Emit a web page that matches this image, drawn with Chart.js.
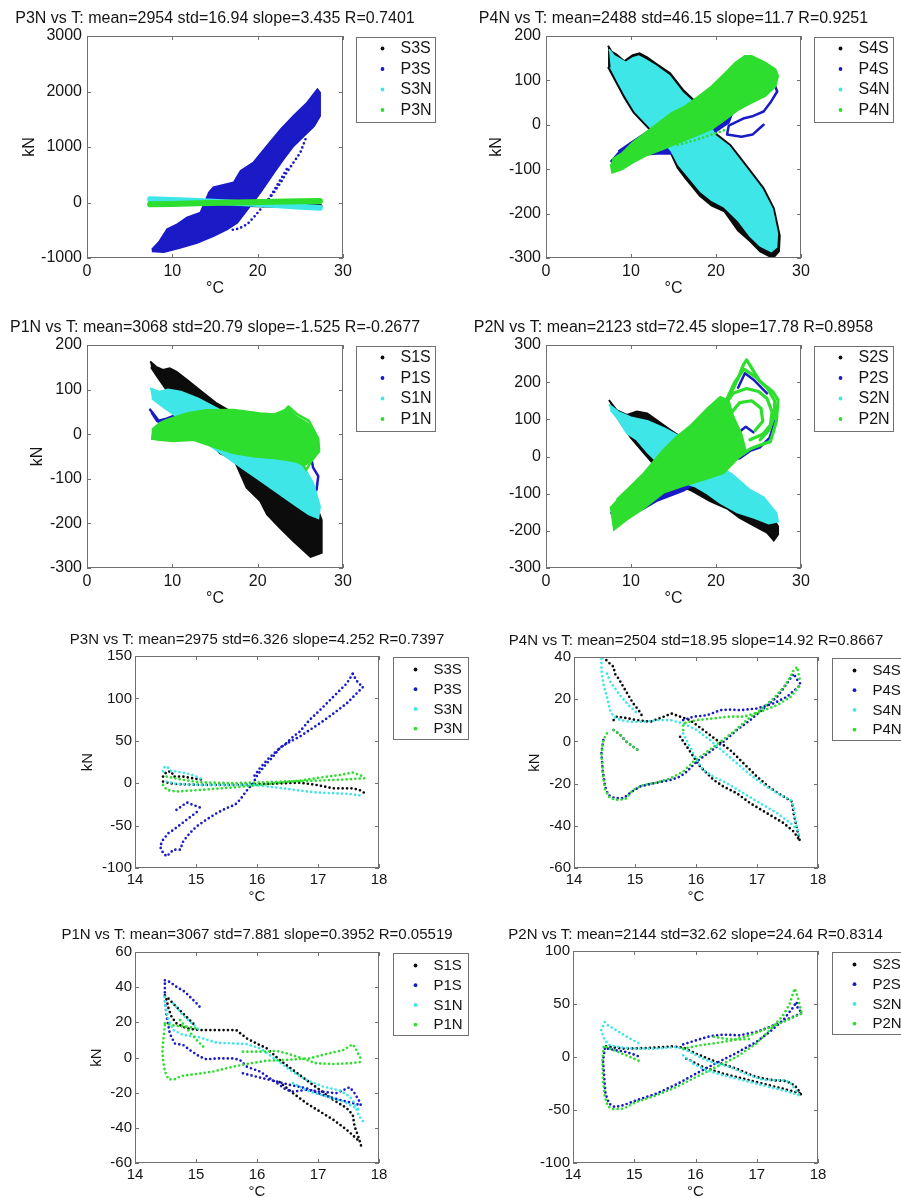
<!DOCTYPE html>
<html>
<head>
<meta charset="utf-8">
<script src="https://cdn.jsdelivr.net/npm/chart.js@4.4.1/dist/chart.umd.min.js"></script>
<style>
  html, body { margin: 0; padding: 0; background: #fff; }
  body { position: relative; width: 901px; height: 1198px; overflow: hidden; }
</style>
</head>
<body>
<script>
// ---- panel 1 : P3N (full record) ----
const p1Title = 'P3N vs T: mean=2954 std=16.94 slope=3.435 R=0.7401';
const p1Labels = ['S3S', 'P3S', 'S3N', 'P3N'];
const p1XTicks = [0, 10, 20, 30];
const p1YTicks = [-1000, 0, 1000, 2000, 3000];
const p1S3S = [[7.5,30],[10,15],[13,0],[16,-15],[19,-35],[22,-50],[25,-60],[27.3,-68]];
const p1P3S_cloud = [[7.6,-850],[8.5,-700],[9.4,-484],[10.5,-400],[11.7,-273],[13.3,-183],[14.3,180],[14.8,270],[17.2,360],[18,568],[19.5,718],[21.1,1018],[22.7,1318],[24.2,1559],[25.8,1799],[27,2039],[27.3,1979],[27.3,1559],[26.6,1378],[25.4,1198],[24.2,1018],[23,778],[21.9,538],[21.1,357],[20.3,177],[19.7,57],[18.8,-123],[17.6,-363],[16.4,-484],[14.8,-604],[12.9,-724],[10.9,-814],[9,-892],[7.6,-880]];
const p1P3S_trails = [
  [[25.6,1140],[25.0,900],[24.2,720],[23.4,540],[22.7,360],[21.9,180],[21.3,60]],
  [[23.4,600],[22.7,420],[22.0,240],[21.3,60],[20.5,-90],[19.7,-240],[18.8,-390],[17.8,-470],[16.8,-500]]
];
const p1S3N = [[7.4,60],[10,45],[13,25],[16,5],[19,-20],[22,-45],[25,-75],[27.3,-93]];
const p1P3N = [[7.4,-33],[10,-25],[13,-15],[16,-5],[19,5],[22,15],[25,22],[27.3,27]];

// ---- panel 2 : P4N (full record) ----
const p2Title = 'P4N vs T: mean=2488 std=46.15 slope=11.7 R=0.9251';
const p2Labels = ['S4S', 'P4S', 'S4N', 'P4N'];
const p2XTicks = [0, 10, 20, 30];
const p2YTicks = [-300, -200, -100, 0, 100, 200];
const p2S4S = [[7.3,178],[7.7,165],[8.3,158],[9.2,143],[10.2,157],[11,161],[11.9,152],[13,137],[14.6,116],[16.1,79],[17.3,57],[18.7,33],[20.1,-22],[21.7,-46],[23.2,-83],[24.4,-113],[25.6,-143],[26.8,-188],[27.5,-250],[27.4,-285],[26.7,-300],[25.2,-285],[24,-262],[22.6,-238],[21,-195],[19.5,-182],[18.1,-160],[16.4,-120],[15.5,-97],[14.6,-60],[13.3,-32],[11.8,-2],[10.3,28],[9.2,62],[8.2,98],[7.3,130]];
const p2P4S = [[7.6,-80],[8.4,-100],[9.5,-85],[11,-68],[13,-65],[14.8,-65],[16.2,-50],[18,-32],[20,-15],[21.5,5],[22,30],[20,60],[18,50],[16,35],[14,10],[12,-15],[10,-40],[8.5,-60]];
const p2P4S_loop = [[23.4,144],[25,128],[26.6,105],[27.2,75],[26.4,50],[25.6,30],[24.4,20],[23.2,14],[21.5,-2],[21.3,-22],[23,-27],[24.3,-22],[25,-10],[25.6,0]];
const p2S4N = [[7.4,170],[8,155],[9.4,140],[10.2,150],[10.9,154],[11.7,146],[12.9,132],[14.5,110],[16,73],[17.2,52],[18.5,30],[19.9,-25],[21.5,-48],[23,-85],[24.2,-115],[25.4,-145],[26.6,-190],[27.2,-245],[27.1,-275],[26.5,-285],[25.2,-272],[24,-250],[22.6,-215],[21,-185],[19.5,-170],[18.2,-150],[16.6,-113],[15.6,-90],[14.8,-60],[13.5,-30],[12,0],[10.5,30],[9.4,65],[8.4,100],[7.6,130]];
const p2P4N = [[7.6,-89],[7.8,-108],[9,-100],[10.2,-85],[11.7,-70],[13.7,-55],[15.6,-40],[17.6,-25],[19.5,-10],[21.1,12],[22.7,35],[24.2,50],[25.8,65],[27,87],[27.3,110],[27,125],[25.8,140],[24.2,155],[23.4,155],[22.3,140],[21.1,117],[19.5,87],[18,65],[16.4,42],[14.8,27],[13.3,5],[11.7,-18],[10.2,-40],[9,-63],[7.8,-78]];
const p2P4N_trail = [[15.5,-45],[17.5,-35],[19.5,-22],[21,-12]];

// ---- panel 3 : P1N (full record) ----
const p3Title = 'P1N vs T: mean=3068 std=20.79 slope=-1.525 R=-0.2677';
const p3Labels = ['S1S', 'P1S', 'S1N', 'P1N'];
const p3XTicks = [0, 10, 20, 30];
const p3YTicks = [-300, -200, -100, 0, 100, 200];
const p3S1S = [[7.4,163],[8.1,151],[8.9,144],[9.7,148],[10.5,140],[11.7,122],[13.2,99],[15.2,69],[17.2,47],[19.5,17],[21.1,-13],[23.4,-58],[25,-102],[26.6,-147],[27.5,-192],[27.5,-266],[26.2,-275],[24.2,-240],[22.6,-210],[21.1,-180],[20.3,-150],[18.7,-120],[17.2,-55],[15.6,-43],[14,-10],[12,30],[10.5,60],[9.3,100],[8.2,130],[7.5,150]];
const p3P1S_loops = [
  [[7.4,55],[7.8,45],[8.4,30],[9.3,35],[10.3,42],[10.0,28],[9.0,22],[8.2,30],[7.6,48]],
  [[22.5,-10],[23.8,-20],[24.6,-30],[25.5,-25],[26.2,-45],[26.5,-75],[27.1,-94],[26.9,-125],[26.2,-132],[25.4,-113],[25.6,-90],[24.8,-75],[23.5,-65],[22,-60],[21.1,-87],[22.5,-95],[24,-100]]
];
const p3S1N = [[7.4,103],[8.5,95],[9.5,100],[11,95],[13,80],[15,60],[17,40],[19,20],[21,-5],[23,-30],[25,-60],[26.5,-110],[27.3,-162],[27.1,-188],[26,-180],[24.5,-160],[23,-140],[21.5,-120],[20,-100],[18.5,-80],[17,-60],[15.5,-40],[14,-20],[12,10],[10.5,40],[9,60],[7.6,80]];
const p3P1N = [[7.6,10],[8.5,25],[9.3,32],[11.7,47],[14,54],[17.2,55],[20.3,47],[22,45],[23.6,58],[24.5,40],[25.8,25],[26.8,0],[27.2,-35],[26.5,-55],[25.5,-70],[24.5,-62],[23.4,-58],[21.9,-54],[19.5,-50],[17.2,-43],[14.8,-28],[12.5,-13],[10.1,-16],[8.5,-13],[7.5,-10]];
const p3P1N_loops = [
  [[22.5,40],[23.6,62],[24.6,45],[26,30],[27.1,-10],[27.2,-38],[26.3,-60],[25.7,-80],[25,-60],[24,-35],[23.2,-10]]
];

// ---- panel 4 : P2N (full record) ----
const p4Title = 'P2N vs T: mean=2123 std=72.45 slope=17.78 R=0.8958';
const p4Labels = ['S2S', 'P2S', 'S2N', 'P2N'];
const p4XTicks = [0, 10, 20, 30];
const p4YTicks = [-300, -200, -100, 0, 100, 200, 300];
const p4S2S = [[7.4,152],[8.3,125],[9.5,112],[10.7,121],[11.9,116],[13,98],[14.6,72],[16,50],[17.5,25],[19,0],[20.5,-30],[22,-60],[23.5,-90],[25,-120],[26.5,-160],[27.3,-188],[27.3,-210],[26.8,-226],[26,-205],[24.4,-185],[22.8,-165],[21.3,-140],[19.3,-120],[17.4,-95],[16,-80],[14.5,-60],[13,-30],[11.5,10],[10,50],[8.8,90],[7.8,125]];
const p4P2S = [[7.6,-150],[8.3,-175],[9.5,-160],[11.5,-140],[13,-120],[16.2,-92],[18.5,-60],[19.7,-30],[21,-5],[21.5,40],[20.5,100],[18.5,100],[16.5,70],[14.5,30],[12.5,-30],[10.5,-80],[8.8,-120]];
const p4P2S_loops = [
  [[19.7,-27],[21,-10],[22.8,-5],[24,15],[25.2,25],[26.3,50],[27,100]],
  [[22.6,185],[23.4,224],[24.5,205],[26,170]],
  [[21,40],[22.4,60],[23.5,80],[24.4,65]]
];
const p4S2N = [[7.4,140],[8.5,120],[10,105],[12,95],[14,75],[16,50],[18,20],[20,-20],[22,-50],[24,-90],[25.6,-110],[27.1,-152],[27.3,-175],[26.2,-180],[24.5,-165],[22.5,-150],[20.5,-125],[19,-100],[17.5,-80],[15.5,-65],[13.8,-30],[12,10],[10.7,45],[9.5,63],[8.5,100],[7.6,125]];
const p4P2N = [[7.6,-134],[8,-197],[9.5,-170],[11.5,-140],[13.8,-98],[16,-80],[18.5,-63],[20.9,-45],[22.4,-9],[23.5,15],[23,60],[22,110],[21.5,150],[20.5,160],[19,130],[16.9,81],[15.4,54],[13.8,18],[11.5,-45],[9.9,-81],[8.3,-116]];
const p4P2N_loops = [
  [[21.3,150],[22.6,210],[23.2,246],[23.6,260],[25.2,201],[26.7,174],[27.3,152],[27.1,94],[26.4,40],[25.2,31],[24,20],[22.4,-5]],
  [[20.8,130],[22.2,200],[23.3,235],[24.6,215],[26,185],[26.9,150],[26.9,110],[26.2,70],[25.2,45]],
  [[20.5,120],[22,170],[23.6,183],[25,175],[26,156],[26.6,120],[26.4,85],[25.5,60],[24,45]],
  [[21.5,110],[22.8,145],[24.2,150],[25.3,130],[25.5,95],[24.6,70]]
];

// ---- panel 5 : P3N (short window) ----
const p5Title = 'P3N vs T: mean=2975 std=6.326 slope=4.252 R=0.7397';
const p5Labels = ['S3S', 'P3S', 'S3N', 'P3N'];
const p5XTicks = [14, 15, 16, 17, 18];
const p5YTicks = [-100, -50, 0, 50, 100, 150];
const p5S3S = [
  [[14.46,7.8],[14.52,13.7],[14.6,13.7],[14.63,7.8],[14.79,7.8],[14.95,5.8],[15.12,3.9]],
  [[14.46,1.9],[14.63,-0.8],[15.06,-2],[15.61,-2],[16.16,-0.8],[16.7,0.7],[16.97,-2],[17.25,-6],[17.57,-6],[17.68,-8],[17.77,-11.8]]
];
const p5P3S = [
  [[17.57,129],[17.47,117.5],[17.25,101.8],[17.03,86],[16.86,74.4],[16.7,60.7],[16.59,54.8],[16.48,47],[16.37,41],[16.26,31],[16.16,23.4],[16.05,13.7],[15.99,7.8],[15.94,0],[15.86,-6],[15.8,-11.8],[15.72,-19.6],[15.64,-25.5],[15.5,-29.4],[15.34,-35.3],[15.17,-43],[15.01,-51],[14.9,-58.8],[14.79,-68.6],[14.74,-78.4],[14.63,-78.4],[14.52,-86.3],[14.46,-82.3],[14.41,-74.5],[14.46,-66.7],[14.55,-58.8],[14.63,-55],[14.85,-43],[15.06,-31.4]],
  [[14.68,-31.4],[14.85,-22.8],[15.09,-29.4]],
  [[17.57,129],[17.6,125],[17.66,118],[17.74,113.6],[17.47,94],[17.25,82],[17.03,70.5],[16.86,62.6],[16.7,54.8],[16.54,48.9],[16.4,43],[16.2,30],[16.05,18],[15.95,8]]
];
const p5S3N = [
  [[14.46,14],[14.49,20],[14.55,18],[14.6,14],[14.68,13.7],[14.85,11.7],[15.01,7.8],[15.12,3.9]],
  [[14.52,2],[14.68,-0.8],[15.06,-2],[15.94,-2],[16.43,-6],[16.7,-8.7],[16.97,-11],[17.25,-11.8],[17.52,-12.6],[17.74,-15]]
];
const p5P3N = [
  [[14.46,-2],[14.52,-8],[14.68,-9.8],[15.06,-8],[15.61,-5],[15.94,-2.8],[16.16,-1.2],[16.7,3],[17.03,6.6],[17.36,9.7],[17.57,12.5],[17.68,9.7],[17.77,7]],
  [[14.52,7.8],[14.79,3.9],[15.06,1.1],[15.61,0],[15.94,0.7],[16.43,2],[16.97,3],[17.52,4.7],[17.77,5.8]]
];

// ---- panel 6 : P4N (short window) ----
const p6Title = 'P4N vs T: mean=2504 std=18.95 slope=14.92 R=0.8667';
const p6Labels = ['S4S', 'P4S', 'S4N', 'P4N'];
const p6XTicks = [14, 15, 16, 17, 18];
const p6YTicks = [-60, -40, -20, 0, 20, 40];
const p6S4S = [
  [[14.48,40],[14.56,37.6],[14.65,35.3],[14.67,32.1],[14.73,29.8],[14.81,25.8],[14.89,21.9],[14.97,18],[15.06,14.8],[15.11,12.4]],
  [[14.65,10.1],[14.7,11.7],[14.81,11.3],[15.03,10.1],[15.25,9.3],[15.47,11.7],[15.6,13.2],[15.74,11.7],[15.9,10.1],[16.12,5.4],[16.34,0.6],[16.56,-4.1],[16.78,-10.4],[17,-16.7],[17.22,-22.2],[17.44,-26.2],[17.57,-28.5],[17.6,-34],[17.66,-41.9],[17.71,-48.2]],
  [[15.74,2.2],[15.85,-2.5],[15.96,-7.3],[16.07,-12],[16.18,-15.1],[16.29,-18.3],[16.45,-21.4],[16.67,-24.6],[16.89,-29.3],[17.16,-34],[17.44,-38.8],[17.6,-42.7],[17.71,-47.4]]
];
const p6P4S = [
  [[14.48,0.6],[14.45,-5.7],[14.47,-13.6],[14.51,-21.4],[14.56,-25.4],[14.67,-26.9],[14.81,-26.9],[14.95,-23.8],[15.08,-21.4],[15.3,-19.9],[15.58,-18.3],[15.74,-16.7],[15.85,-14.3],[16.01,-9.6],[16.23,-4.9],[16.45,-0.2],[16.67,5.4],[16.89,10.1],[17.11,15.6],[17.33,21.1],[17.49,27.4],[17.6,32.1],[17.68,28.2],[17.71,27.4]],
  [[15.79,10.1],[15.96,11.7],[16.18,12.4],[16.4,14.8],[16.56,15.1],[16.73,14.8],[17,15.6],[17.27,18],[17.49,21.1],[17.71,26.6]],
  [[14.65,5.4],[14.76,3],[14.86,-0.2],[14.97,-2.5],[15.08,-4.9]]
];
const p6S4N = [
  [[14.45,39.2],[14.45,33.7],[14.48,27.4],[14.54,21.1],[14.59,14.8],[14.65,11.7],[14.76,10.1],[14.92,9.3],[15.14,9.3],[15.36,10.1],[15.58,10.1],[15.79,8.5],[16.01,5.4],[16.23,0.6],[16.45,-4.9],[16.67,-10.4],[16.89,-15.9],[17.11,-20.6],[17.33,-24.6],[17.55,-27.7],[17.6,-30.9],[17.63,-37.2],[17.68,-43.5],[17.71,-45.8]],
  [[14.54,32.1],[14.6,28],[14.75,22],[14.9,17],[15.05,13]],
  [[15.79,3.8],[15.9,-2.5],[16.01,-8.8],[16.12,-13.6],[16.29,-16.7],[16.51,-19.9],[16.78,-24.6],[17.05,-29.3],[17.33,-34],[17.55,-38.8],[17.66,-41.9]]
];
const p6P4N = [
  [[14.54,3.8],[14.48,0.6],[14.45,-5.7],[14.47,-15.1],[14.51,-23],[14.59,-26.9],[14.7,-27.7],[14.84,-27.4],[14.97,-23],[15.14,-20.6],[15.36,-19.5],[15.58,-17.5],[15.79,-14.3],[15.96,-9.6],[16.18,-4.9],[16.4,-0.2],[16.62,4.6],[16.83,10.1],[17.05,14.8],[17.27,20.3],[17.44,25.8],[17.55,30.6],[17.6,33.7],[17.66,35.3],[17.68,32.1],[17.71,28.2]],
  [[15.79,5.4],[15.79,8.5],[16.01,10.1],[16.29,10.9],[16.51,11.7],[16.78,11.7],[17.05,14],[17.33,17.2],[17.55,21.1],[17.71,26.6]],
  [[14.65,5.4],[14.76,3],[14.86,-0.2],[14.97,-2.5],[15.08,-4.9]]
];

// ---- panel 7 : P1N (short window) ----
const p7Title = 'P1N vs T: mean=3067 std=7.881 slope=0.3952 R=0.05519';
const p7Labels = ['S1S', 'P1S', 'S1N', 'P1N'];
const p7XTicks = [14, 15, 16, 17, 18];
const p7YTicks = [-60, -40, -20, 0, 20, 40, 60];
const p7S1S = [
  [[14.49,35.4],[14.52,32.6],[14.55,27.9],[14.6,23.1],[14.68,19.4],[14.85,16.5],[15.06,15.6],[15.34,15.6],[15.66,15.6],[15.83,10.9],[15.99,8],[16.16,5.2],[16.37,-1.4],[16.59,-7.1],[16.81,-12.8],[17.03,-18.4],[17.25,-24.1],[17.47,-28.8],[17.57,-32.6],[17.6,-39.2],[17.66,-44.9],[17.71,-50.6]],
  [[14.55,33.5],[14.65,29.8],[14.76,26],[14.87,22.2],[14.98,18.4]],
  [[16.37,-14],[16.59,-20.3],[16.81,-26],[17.03,-30.7],[17.25,-35.4],[17.47,-41.1],[17.68,-47.7]]
];
const p7P1S = [
  [[14.49,43.9],[14.57,43],[14.68,40.2],[14.82,37.3],[14.93,33.5],[15.04,29.8],[15.09,27.3]],
  [[14.49,42],[14.49,32.6],[14.52,23.1],[14.57,13.7],[14.65,8],[14.79,7.1],[14.9,4.2],[15.06,0.5],[15.17,-1],[15.39,-0.5],[15.61,-0.5],[15.72,-1.4],[15.83,-5.2],[16.05,-8],[16.21,-11.8],[16.37,-15.6],[16.48,-18.4],[16.59,-19.4],[16.81,-18.4],[17.03,-19.4],[17.3,-20.3],[17.52,-16.9],[17.6,-20.3],[17.68,-25],[17.71,-27.9]],
  [[15.77,-9],[15.99,-10.9],[16.26,-13.1],[16.54,-15.6],[16.81,-17.5],[17.08,-21.3],[17.36,-24.1],[17.68,-26.9]]
];
const p7S1N = [
  [[14.49,34.5],[14.5,28.8],[14.55,21.3],[14.63,15.6],[14.79,12.8],[15.06,11.4],[15.34,8.4],[15.61,8],[15.83,7.6],[16.05,5.2],[16.32,-1.4],[16.54,-7.1],[16.81,-12.8],[17.08,-16.5],[17.36,-18.8],[17.52,-22.2],[17.6,-26],[17.66,-32.6],[17.74,-36.4]],
  [[14.63,30.7],[14.76,25],[14.9,20.3],[15.06,15.6]],
  [[16.59,-14.6],[16.86,-19.4],[17.14,-22.2],[17.41,-25],[17.68,-29.8]]
];
const p7P1N = [
  [[14.49,18.4],[14.47,11.8],[14.45,4.2],[14.46,-1.4],[14.49,-8],[14.55,-12.4],[14.65,-12.4],[14.76,-10.5],[14.96,-9.6],[15.28,-8],[15.61,-5.2],[15.83,-3.7],[16.16,-1.8],[16.48,-1.4],[16.86,-0.5],[17.14,2],[17.41,4.2],[17.57,7.5],[17.63,4.2],[17.68,0.5],[17.73,-1.8]],
  [[14.49,19.4],[14.68,17.9],[14.85,17.5],[15.01,16.5]],
  [[14.74,21.3],[14.87,15.6],[15.01,9.9],[15.12,6.1]],
  [[15.77,3.3],[16.05,3.3],[16.32,3.7],[16.48,2.4],[16.7,0],[16.97,-3.3],[17.25,-3.7],[17.52,-3.3],[17.73,-2.4]]
];

// ---- panel 8 : P2N (short window) ----
const p8Title = 'P2N vs T: mean=2144 std=32.62 slope=24.64 R=0.8314';
const p8Labels = ['S2S', 'P2S', 'S2N', 'P2N'];
const p8XTicks = [14, 15, 16, 17, 18];
const p8YTicks = [-100, -50, 0, 50, 100];
const p8S2S = [
  [[14.54,10],[14.82,7.9],[15.25,8.5],[15.63,10],[15.8,8.8],[16.01,3.1],[16.34,-4.7],[16.67,-11],[16.99,-18.9],[17.27,-22],[17.48,-22.7],[17.62,-26.7],[17.7,-33],[17.73,-36.2]],
  [[15.85,-1.6],[16.12,-9.4],[16.45,-15.7],[16.78,-20.5],[17.1,-25.2],[17.43,-29.9],[17.73,-34.6]]
];
const p8P2S = [
  [[14.52,7.9],[14.49,-3.2],[14.51,-18.9],[14.53,-34.6],[14.59,-44],[14.68,-47.2],[14.82,-45.6],[15.03,-40.9],[15.36,-34.6],[15.69,-25.8],[16.01,-15.7],[16.34,-5.7],[16.67,3.8],[16.99,14.1],[17.21,23.6],[17.43,34.6],[17.59,46.5],[17.65,51.9],[17.67,45.6],[17.73,42.4]],
  [[15.8,11.9],[16.01,15.7],[16.23,19.5],[16.45,21.1],[16.72,20.4],[16.99,23.6],[17.21,28.3],[17.65,39.3],[17.73,41.5]],
  [[14.57,7.9],[14.71,6.3],[14.87,4.7],[15.03,1.6],[15.12,-0.6]]
];
const p8S2N = [
  [[14.52,33],[14.46,25.1],[14.52,15.7],[14.6,11],[14.82,8.8],[15.03,7.9],[15.36,7.9],[15.69,9.4],[15.88,5.7],[16.12,-1.6],[16.34,-6.3],[16.56,-9.4],[16.78,-15.1],[17.1,-21.4],[17.43,-22],[17.54,-23.6],[17.62,-29.9],[17.7,-36.2]],
  [[14.57,29.9],[14.71,25.1],[14.84,20.4],[14.98,15.7],[15.12,11.9]],
  [[15.8,1.6],[15.96,-6.3],[16.18,-12.6],[16.45,-17.3],[16.78,-22],[17.1,-26.7],[17.43,-31.5],[17.7,-36.2]]
];
const p8P2N = [
  [[14.5,9.4],[14.48,-3.2],[14.49,-22],[14.52,-37.7],[14.57,-46.6],[14.65,-49.1],[14.82,-48.8],[15.03,-42.5],[15.36,-36.2],[15.69,-28.3],[16.01,-18.9],[16.34,-9.4],[16.67,0],[16.99,12.6],[17.21,25.1],[17.43,39.3],[17.54,50.3],[17.59,59.7],[17.62,64.5],[17.67,56.6],[17.7,48.7],[17.73,42.4]],
  [[15.8,7.9],[16.07,11],[16.34,13.2],[16.61,15.7],[16.88,20.4],[17.16,26.7],[17.43,33],[17.73,40.8]],
  [[16.3,19],[16.5,17],[16.7,16.5],[16.9,17]],
  [[14.54,9.4],[14.71,5.3],[14.87,1.6],[15.03,-2.5],[15.12,-4.7]]
];

// series colours / stacking: black, blue, cyan, green (green on top)
const COLORS = ['#0c0c0c', '#1a1ac6', '#3fe6e8', '#2ede2e'];
const ORDERS = [4, 3, 2, 1];
const FONT = '"Liberation Sans", Arial, Helvetica, sans-serif';
Chart.defaults.font.family = FONT;

const LG_BIG = { w: 79, h: 85, first: 11, step: 20.5, mx: 26, tx: 44, dx: 13 };
const LG_SMALL = { w: 75, h: 82, first: 12, step: 19.7, mx: 22, tx: 40, dx: 14 };

const panels = [
  { box: [87, 36, 256, 222], fs: 16, tdy: 17.5, kN: 57, xp: 4, yp: 5, lg: LG_BIG,
    title: p1Title, labels: p1Labels, xt: p1XTicks, yt: p1YTicks,
    series: [{ line: [p1S3S], w: 5 }, { fill: [p1P3S_cloud], dots: p1P3S_trails }, { line: [p1S3N], w: 6 }, { line: [p1P3N], w: 6 }] },
  { box: [546, 36, 255, 222], fs: 16, tdy: 17.5, kN: 49, xp: 4, yp: 5, lg: LG_BIG,
    title: p2Title, labels: p2Labels, xt: p2XTicks, yt: p2YTicks,
    series: [{ fill: [p2S4S] }, { fill: [p2P4S], line: [p2P4S_loop] }, { fill: [p2S4N] }, { fill: [p2P4N], dots: [p2P4N_trail] }] },
  { box: [87, 345, 256, 223], fs: 16, tdy: 17, kN: 49, xp: 4, yp: 5, lg: LG_BIG,
    title: p3Title, labels: p3Labels, xt: p3XTicks, yt: p3YTicks,
    series: [{ fill: [p3S1S] }, { line: p3P1S_loops }, { fill: [p3S1N] }, { fill: [p3P1N], line: p3P1N_loops }] },
  { box: [546, 345, 255, 223], fs: 16, tdy: 17, kN: null, xp: 4, yp: 5, lg: LG_BIG,
    title: p4Title, labels: p4Labels, xt: p4XTicks, yt: p4YTicks,
    series: [{ fill: [p4S2S] }, { fill: [p4P2S], line: p4P2S_loops }, { fill: [p4S2N] }, { fill: [p4P2N], line: p4P2N_loops, w: 3.2 }] },
  { box: [135, 656, 244, 212], fs: 15, tdy: 16, kN: 47, xp: 3, yp: 3, lg: LG_SMALL,
    title: p5Title, labels: p5Labels, xt: p5XTicks, yt: p5YTicks,
    series: [{ dots: p5S3S }, { dots: p5P3S }, { dots: p5S3N }, { dots: p5P3N }] },
  { box: [574, 657, 244, 211], fs: 15, tdy: 16.5, kN: 39, xp: 3, yp: 3, lg: LG_SMALL,
    title: p6Title, labels: p6Labels, xt: p6XTicks, yt: p6YTicks,
    series: [{ dots: p6S4S }, { dots: p6P4S }, { dots: p6S4N }, { dots: p6P4N }] },
  { box: [135, 952, 244, 211], fs: 15, tdy: 17, kN: 38, xp: 3, yp: 3, lg: LG_SMALL,
    title: p7Title, labels: p7Labels, xt: p7XTicks, yt: p7YTicks,
    series: [{ dots: p7S1S }, { dots: p7P1S }, { dots: p7S1N }, { dots: p7P1N }] },
  { box: [573, 951, 245, 212], fs: 15, tdy: 16.5, kN: null, xp: 3, yp: 3, lg: LG_SMALL,
    title: p8Title, labels: p8Labels, xt: p8XTicks, yt: p8YTicks,
    series: [{ dots: p8S2S }, { dots: p8P2S }, { dots: p8S2N }, { dots: p8P2N }] }
];

const pts = arr => arr.map(([x, y]) => ({ x, y }));

function seriesSets(parts, i) {
  const color = COLORS[i], order = ORDERS[i], sets = [];
  (parts.fill || []).forEach(p => sets.push({
    data: pts(p), showLine: true, fill: 'shape', backgroundColor: color, borderColor: color,
    borderWidth: 2, pointRadius: 0, order
  }));
  (parts.line || []).forEach(p => sets.push({
    data: pts(p), showLine: true, fill: false, borderColor: color,
    borderWidth: parts.w || 2.5, borderJoinStyle: 'round', borderCapStyle: 'round', pointRadius: 0, order
  }));
  (parts.dots || []).forEach(p => sets.push({
    data: pts(p), showLine: true, fill: false, borderColor: color,
    borderWidth: 2.7, borderDash: [0, 4.4], borderCapStyle: 'round', pointRadius: 0, order
  }));
  return sets;
}

// axes box with inner ticks, title over the axes, boxed legend at the right
const matlabFrame = {
  id: 'matlabFrame',
  afterDraw(chart, args, o) {
    const { ctx, chartArea: a, scales: { x, y } } = chart;
    ctx.save();
    ctx.strokeStyle = '#707070';
    ctx.lineWidth = 1;
    ctx.strokeRect(a.left + 0.5, a.top + 0.5, a.width - 1, a.height - 1);
    ctx.beginPath();
    x.ticks.forEach(t => {
      const px = Math.round(x.getPixelForValue(t.value)) + 0.5;
      ctx.moveTo(px, a.bottom); ctx.lineTo(px, a.bottom - 4);
      ctx.moveTo(px, a.top); ctx.lineTo(px, a.top + 4);
    });
    y.ticks.forEach(t => {
      const py = Math.round(y.getPixelForValue(t.value)) + 0.5;
      ctx.moveTo(a.left, py); ctx.lineTo(a.left + 4, py);
      ctx.moveTo(a.right, py); ctx.lineTo(a.right - 4, py);
    });
    ctx.stroke();

    ctx.font = `${o.fs}px ${FONT}`;
    ctx.fillStyle = '#151515';
    ctx.textAlign = 'center';
    ctx.textBaseline = 'middle';
    ctx.fillText(o.title, (a.left + a.right) / 2, a.top - o.tdy);

    const lg = o.lg, lx = Math.round(a.right + lg.dx) + 0.5, ly = Math.round(a.top + 1) + 0.5;
    ctx.fillStyle = '#fff';
    ctx.fillRect(lx, ly, lg.w, lg.h);
    ctx.strokeStyle = '#707070';
    ctx.strokeRect(lx, ly, lg.w, lg.h);
    ctx.textAlign = 'left';
    o.labels.forEach((lab, i) => {
      const cy = ly + lg.first + i * lg.step;
      ctx.fillStyle = COLORS[i];
      ctx.beginPath();
      ctx.arc(lx + lg.mx, cy, 1.9, 0, Math.PI * 2);
      ctx.fill();
      ctx.fillStyle = '#151515';
      ctx.fillText(lab, lx + lg.tx, cy + 0.5);
    });
    ctx.restore();
  }
};

const Y_W = 72, X_H = 40, M_L = 90, M_T = 40, M_R = 100, M_B = 40;

panels.forEach(p => {
  const [L, T, W, H] = p.box;
  const cv = document.createElement('canvas');
  cv.width = W + M_L + M_R;
  cv.height = H + M_T + M_B;
  cv.style.cssText = `position:absolute;left:${L - M_L}px;top:${T - M_T}px;width:${cv.width}px;height:${cv.height}px`;
  document.body.appendChild(cv);

  const datasets = [];
  p.series.forEach((s, i) => datasets.push(...seriesSets(s, i)));
  const lh2 = p.fs * 0.6;
  const font = { size: p.fs };

  new Chart(cv.getContext('2d'), {
    type: 'scatter',
    data: { datasets },
    options: {
      responsive: false,
      animation: false,
      devicePixelRatio: 1,
      events: [],
      layout: { padding: { left: M_L - Y_W, top: M_T, right: M_R, bottom: M_B - X_H } },
      plugins: {
        legend: { display: false },
        tooltip: { enabled: false },
        matlabFrame: { title: p.title, labels: p.labels, fs: p.fs, tdy: p.tdy, lg: p.lg }
      },
      scales: {
        x: {
          type: 'linear',
          min: p.xt[0], max: p.xt[p.xt.length - 1],
          afterBuildTicks: sc => { sc.ticks = p.xt.map(v => ({ value: v })); },
          afterFit: sc => { sc.height = X_H; },
          grid: { display: false, drawTicks: false },
          border: { display: false },
          ticks: { autoSkip: false, maxRotation: 0, padding: p.xp, color: '#151515', font, callback: v => String(v) },
          title: { display: true, text: '°C', color: '#151515', font, padding: { top: 0, bottom: p.fs === 16 ? 0 : 2 } }
        },
        y: {
          type: 'linear',
          min: p.yt[0], max: p.yt[p.yt.length - 1],
          afterBuildTicks: sc => { sc.ticks = p.yt.map(v => ({ value: v })); },
          afterFit: sc => { sc.width = Y_W; },
          grid: { display: false, drawTicks: false },
          border: { display: false },
          ticks: { autoSkip: false, padding: p.yp, color: '#151515', font, callback: v => String(v) },
          title: { display: p.kN !== null, text: 'kN', color: '#151515', font,
                   padding: { top: p.kN === null ? 0 : Y_W - p.kN - lh2, bottom: 0 } }
        }
      }
    },
    plugins: [matlabFrame]
  });
});
</script>
</body>
</html>
